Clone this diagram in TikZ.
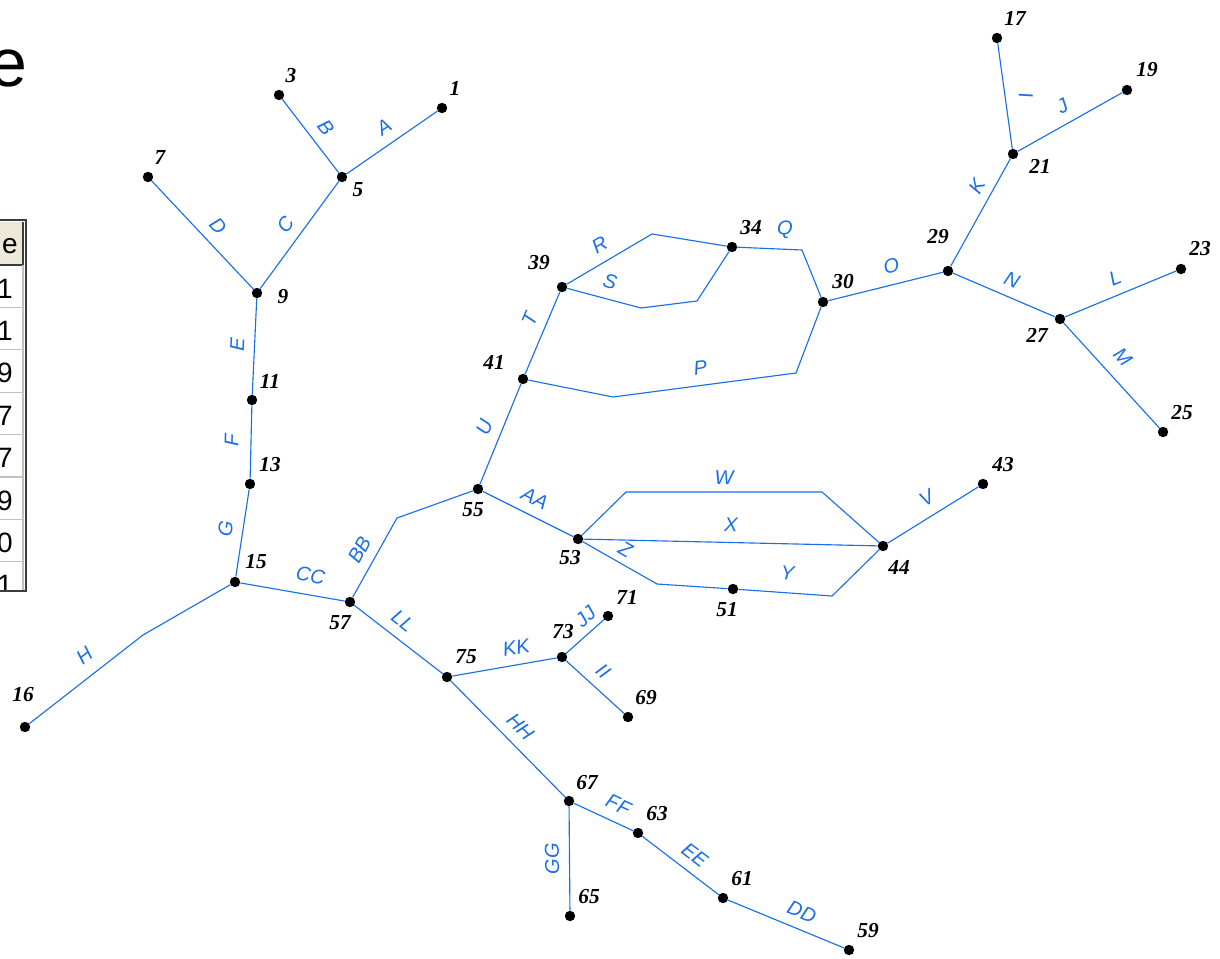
\documentclass[tikz,border=0pt]{standalone}
\usepackage{fontspec}
\setmainfont{Liberation Serif}
\setsansfont{Liberation Sans}
\usepackage{xcolor}
\usetikzlibrary{positioning,calc}

\definecolor{pipeblue}{RGB}{25,110,235}
\definecolor{hdrbeige}{RGB}{236,233,216}
\definecolor{gridgray}{RGB}{196,194,184}
\definecolor{framegray}{RGB}{60,60,60}

\tikzset{
  junc/.style={circle, fill=black, inner sep=0pt, minimum size=7.8pt},
  num/.style={font=\fontsize{16}{16}\selectfont\bfseries\itshape, inner sep=0pt},
  pipe/.style={draw=pipeblue, line width=0.85pt},
  lab/.style={font=\sffamily\itshape\fontsize{15}{15}\selectfont, text=pipeblue, sloped, inner sep=1pt, above=6.4pt},
  cell/.style={font=\sffamily\fontsize{21}{21}\selectfont, anchor=base east, inner sep=0pt},
}

\begin{document}
\begin{tikzpicture}[x=0.75pt, y=-0.75pt]
\useasboundingbox (0,0) rectangle (1220,959);
\clip (0,0) rectangle (1220,959);

% title and table stub at the left edge
\node[font=\sffamily\fontsize{51}{51}\selectfont, anchor=base east, inner sep=0pt] (title) at (27.5,87) {e};
\fill[hdrbeige] (-10,222) rectangle (23,265);
\draw[framegray, line width=0.9pt] (-10,265) -- (23,265) -- (23,222);
\foreach \k in {1,...,7}
  \draw[gridgray, line width=0.8pt] (-10,{265+42.4*\k}) -- (23,{265+42.4*\k});
\draw[gridgray, line width=0.8pt] (23,265) -- (23,591);
\node[cell] (hdr) at (18,253) {e};
\foreach \v [count=\k] in {1,1,9,7,7,9,0,1}
  \node[cell] (c\k) at (13,{298+42.4*(\k-1)}) {\v};
\fill[white] (-10,592) rectangle (30,620);
\draw[framegray, line width=1.5pt] (-10,220) -- (25.5,220) -- (25.5,591) -- (-10,591);

% junctions
\node[junc] (p1) at (442,108) {};
\node[junc] (p3) at (279,95) {};
\node[junc] (p5) at (342,177) {};
\node[junc] (p7) at (148,177) {};
\node[junc] (p9) at (257,293) {};
\node[junc] (p11) at (252,400) {};
\node[junc] (p13) at (250,484) {};
\node[junc] (p15) at (235,582) {};
\node[junc] (p16) at (25,727) {};
\node[junc] (p17) at (997,38) {};
\node[junc] (p19) at (1127,90) {};
\node[junc] (p21) at (1013,154) {};
\node[junc] (p23) at (1181,269) {};
\node[junc] (p25) at (1163,432) {};
\node[junc] (p27) at (1060,319) {};
\node[junc] (p29) at (948,271) {};
\node[junc] (p30) at (823,302) {};
\node[junc] (p34) at (732,247) {};
\node[junc] (p39) at (562,287) {};
\node[junc] (p41) at (523,379) {};
\node[junc] (p43) at (983,484) {};
\node[junc] (p44) at (883,546) {};
\node[junc] (p51) at (733,589) {};
\node[junc] (p53) at (578,539) {};
\node[junc] (p55) at (478,489) {};
\node[junc] (p57) at (350,602) {};
\node[junc] (p59) at (849,950) {};
\node[junc] (p61) at (723,898) {};
\node[junc] (p63) at (638,833) {};
\node[junc] (p65) at (570,916) {};
\node[junc] (p67) at (569,801) {};
\node[junc] (p69) at (628,717) {};
\node[junc] (p71) at (608,616) {};
\node[junc] (p73) at (562,657) {};
\node[junc] (p75) at (447,677) {};

% junction numbers
\node[num] (n1) at (455,88) {1};
\node[num] (n3) at (291,76) {3};
\node[num] (n5) at (358,190) {5};
\node[num] (n7) at (160,158) {7};
\node[num] (n9) at (283,297) {9};
\node[num] (n11) at (270,381) {11};
\node[num] (n13) at (270,465) {13};
\node[num] (n15) at (256,562) {15};
\node[num] (n16) at (23,695) {16};
\node[num] (n17) at (1015,18) {17};
\node[num] (n19) at (1147,70) {19};
\node[num] (n21) at (1040,166) {21};
\node[num] (n23) at (1200,249) {23};
\node[num] (n25) at (1182,413) {25};
\node[num] (n27) at (1037,335) {27};
\node[num] (n29) at (938,237) {29};
\node[num] (n30) at (843,282) {30};
\node[num] (n34) at (751,228) {34};
\node[num] (n39) at (539,263) {39};
\node[num] (n41) at (494,362) {41};
\node[num] (n43) at (1003,465) {43};
\node[num] (n44) at (899,567) {44};
\node[num] (n51) at (727,610) {51};
\node[num] (n53) at (570,558) {53};
\node[num] (n55) at (473,510) {55};
\node[num] (n57) at (340,623) {57};
\node[num] (n59) at (868,931) {59};
\node[num] (n61) at (742,879) {61};
\node[num] (n63) at (657,814) {63};
\node[num] (n65) at (589,897) {65};
\node[num] (n67) at (587,783) {67};
\node[num] (n69) at (646,698) {69};
\node[num] (n71) at (627,597) {71};
\node[num] (n73) at (563,632) {73};
\node[num] (n75) at (466,657) {75};

% pipes
\draw[pipe] (p5) -- node[lab, pos=.52] (lA) {A} (p1);
\draw[pipe] (p3) -- node[lab, pos=.53] (lB) {B} (p5);
\draw[pipe] (p9) -- node[lab, pos=.50] (lC) {C} (p5);
\draw[pipe] (p7) -- node[lab, pos=.53] (lD) {D} (p9);
\draw[pipe] (p11) -- node[lab, pos=.51] (lE) {E} (p9);
\draw[pipe] (p13) -- node[lab, pos=.52, above=7.9pt] (lF) {F} (p11);
\draw[pipe] (p15) -- node[lab, pos=.52] (lG) {G} (p13);
\draw[pipe] (p16) -- node[lab, pos=.59, above=8pt] (lH) {H} (143,635) -- (p15);
\draw[pipe] (p17) -- node[lab, pos=.52, above=9pt] (lI) {I} (p21);
\draw[pipe] (p21) -- node[lab, pos=.51] (lJ) {J} (p19);
\draw[pipe] (p29) -- node[lab, pos=.67, above=5.3pt] (lK) {K} (p21);
\draw[pipe] (p27) -- node[lab, pos=.51] (lL) {L} (p23);
\draw[pipe] (p27) -- node[lab, pos=.46, above=8.8pt] (lM) {M} (p25);
\draw[pipe] (p29) -- node[lab, pos=.51] (lN) {N} (p27);
\draw[pipe] (p30) -- node[lab, pos=.59, above=7.2pt] (lO) {O} (p29);
\draw[pipe] (p41) -- (613,397) -- node[lab, pos=.49] (lP) {P} (796,373) -- (p30);
\draw[pipe] (p34) -- node[lab, pos=.72] (lQ) {Q} (802,250) -- (p30);
\draw[pipe] (p39) -- node[lab, pos=.49] (lR) {R} (652,234) -- (p34);
\draw[pipe] (p39) -- node[lab, pos=.52] (lS) {S} (641,308) -- (697,301) -- (p34);
\draw[pipe] (p41) -- node[lab, pos=.59] (lT) {T} (p39);
\draw[pipe] (p55) -- node[lab, pos=.50] (lU) {U} (p41);
\draw[pipe] (p44) -- node[lab, pos=.53] (lV) {V} (p43);
\draw[pipe] (p53) -- (626,492) -- node[lab, pos=.50, above=4pt] (lW) {W} (822,492) -- (p44);
\draw[pipe] (p53) -- node[lab, pos=.50] (lX) {X} (p44);
\draw[pipe] (p53) -- node[lab, pos=.48, above=4.4pt] (lZ) {Z} (657,584) -- (p51);
\draw[pipe] (p51) -- node[lab, pos=.51, above=8.3pt] (lY) {Y} (832,596) -- (p44);
\draw[pipe] (p55) -- node[lab, pos=.49] (lAA) {AA} (p53);
\draw[pipe] (p57) -- node[lab, pos=.49] (lBB) {BB} (397,518) -- (p55);
\draw[pipe] (p15) -- node[lab, pos=.64, above=7.9pt] (lCC) {CC} (p57);
\draw[pipe] (p61) -- node[lab, pos=.58] (lDD) {DD} (p59);
\draw[pipe] (p63) -- node[lab, pos=.55] (lEE) {EE} (p61);
\draw[pipe] (p67) -- node[lab, pos=.63] (lFF) {FF} (p63);
\draw[pipe] (p65) -- node[lab, pos=.50, allow upside down] (lGG) {GG} (p67);
\draw[pipe] (p75) -- node[lab, pos=.50] (lHH) {HH} (p67);
\draw[pipe] (p73) -- node[lab, pos=.44] (lII) {II} (p69);
\draw[pipe] (p73) -- node[lab, pos=.77, above=4.2pt] (lJJ) {JJ} (p71);
\draw[pipe] (p75) -- node[lab, pos=.64] (lKK) {KK} (p73);
\draw[pipe] (p57) -- node[lab, pos=.43] (lLL) {LL} (p75);
\end{tikzpicture}
\end{document}
